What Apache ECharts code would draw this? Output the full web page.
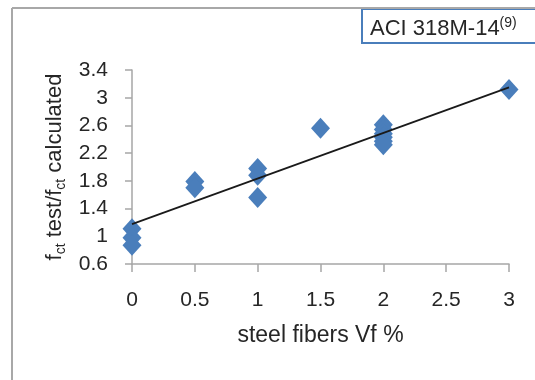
<!DOCTYPE html>
<html>
<head>
<meta charset="utf-8">
<script src="https://cdn.jsdelivr.net/npm/echarts@6/dist/echarts.min.js"></script>
<style>html,body{margin:0;padding:0;background:#fff;}#c{width:535px;height:380px;}</style>
</head>
<body>
<div id="c"></div>
<script>
// Data
const vf = [0, 0, 0, 0.5, 0.5, 1, 1, 1, 1.5, 2, 2, 2, 2, 2, 2, 3];
const ratio = [1.11, 0.98, 0.87, 1.79, 1.70, 1.98, 1.88, 1.56, 2.56, 2.61, 2.54, 2.48, 2.43, 2.37, 2.32, 3.12];
const trendX = [0, 3];
const trendY = [1.175, 3.15];
const yTicks = [0.6, 1, 1.4, 1.8, 2.2, 2.6, 3, 3.4];
const xTicks = [0, 0.5, 1, 1.5, 2, 2.5, 3];

const FONT = "'Liberation Sans', Arial, sans-serif";
const points = vf.map((x, i) => [x, ratio[i]]);
const trend = trendX.map((x, i) => [x, trendY[i]]);

const chart = echarts.init(document.getElementById('c'), null, {renderer: 'canvas'});
chart.setOption({
  animation: false,
  backgroundColor: '#fff',
  title: {
    text: '{m|ACI 318M-14}{s|(9)}',
    left: 370, top: 16, padding: 0, z: 20,
    textStyle: {
      fontWeight: 'normal',
      rich: {
        m: {fontSize: 22, fontFamily: FONT, fontWeight: 'normal', color: '#262626', lineHeight: 26},
        s: {fontSize: 14, fontFamily: FONT, fontWeight: 'normal', color: '#262626', verticalAlign: 'top', lineHeight: 16}
      }
    }
  },
  graphic: [
    {type: 'rect', z: 1, shape: {x: 362, y: 9, width: 200, height: 34},
     style: {fill: '#fff', stroke: '#4a7ebb', lineWidth: 2}},
    {type: 'line', z: 30, shape: {x1: 12, y1: 8, x2: 535, y2: 8},
     style: {stroke: '#a8a8a8', lineWidth: 2}},
    {type: 'line', z: 30, shape: {x1: 12, y1: 8, x2: 12, y2: 380},
     style: {stroke: '#a8a8a8', lineWidth: 2}}
  ],
  grid: {left: 132, right: 26, top: 70, bottom: 116, containLabel: false},
  xAxis: {
    type: 'value', min: 0, max: 3, interval: 0.5,
    name: 'steel fibers Vf %', nameLocation: 'middle', nameGap: 60,
    nameTextStyle: {fontSize: 23, fontFamily: FONT, color: '#262626'},
    axisLine: {show: true, lineStyle: {color: '#a6a6a6', width: 1.5}},
    axisTick: {show: true, length: 8, lineStyle: {color: '#a6a6a6', width: 1.5}},
    axisLabel: {fontSize: 21, fontFamily: FONT, color: '#262626', margin: 26,
      customValues: xTicks},
    splitLine: {show: false}
  },
  yAxis: {
    type: 'value', min: 0.6, max: 3.4,
    name: '{n|f}{s|ct}{n| test/f}{s|ct}{n| calculated}',
    nameLocation: 'middle', nameGap: 63, nameRotate: 90,
    nameTextStyle: {
      rich: {
        n: {fontSize: 22, fontFamily: FONT, color: '#262626', lineHeight: 26},
        s: {fontSize: 14, fontFamily: FONT, color: '#262626', verticalAlign: 'bottom', lineHeight: 10}
      }
    },
    axisLine: {show: true, lineStyle: {color: '#a6a6a6', width: 1.5}},
    axisTick: {show: true, length: 7, customValues: yTicks, lineStyle: {color: '#a6a6a6', width: 1.5}},
    axisLabel: {fontSize: 21, fontFamily: FONT, color: '#262626', margin: 24, customValues: yTicks},
    splitLine: {show: false}
  },
  series: [
    {type: 'scatter', data: points, symbol: 'diamond', symbolSize: [19, 21],
     itemStyle: {color: '#4a7ebb', opacity: 1}, z: 2},
    {type: 'line', data: trend, symbol: 'none', z: 3,
     lineStyle: {color: '#1a1a1a', width: 1.75}}
  ]
});
</script>
</body>
</html>
